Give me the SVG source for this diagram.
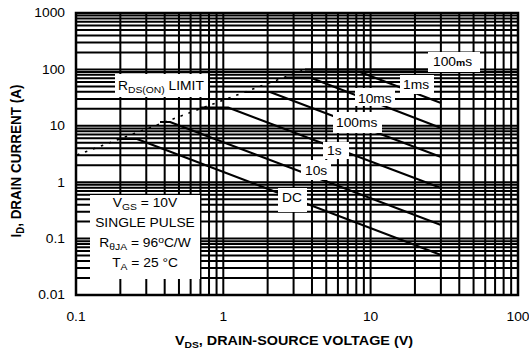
<svg xmlns="http://www.w3.org/2000/svg" width="529" height="354" viewBox="0 0 529 354">
<style>
.g{stroke:#000;stroke-width:2;fill:none}
.fr{stroke:#000;stroke-width:2.5;fill:none}
.c{stroke:#000;stroke-width:2;fill:none;stroke-linejoin:round}
.rds{stroke:#000;stroke-width:1.6;fill:none;stroke-dasharray:2.5 6}
.bx{fill:#fff;stroke:none}
text{font-family:"Liberation Sans",Arial,sans-serif;font-size:12px;fill:#000}
.b{font-weight:bold;font-size:12.5px}
.s{font-size:9px}
</style>
<rect width="529" height="354" fill="#fff"/>
<g id="grid">
<path class="g" d="M76 15.58H518M76 18.47H518M76 21.74H518M76 25.51H518M76 29.98H518M76 35.46H518M76 42.49H518M76 52.42H518M76 69.4H518
M76 71.98H518M76 74.87H518M76 78.14H518M76 81.91H518M76 86.38H518M76 91.86H518M76 98.89H518M76 108.82H518M76 125.8H518
M76 128.38H518M76 131.27H518M76 134.54H518M76 138.31H518M76 142.78H518M76 148.26H518M76 155.29H518M76 165.22H518M76 182.2H518
M76 184.78H518M76 187.67H518M76 190.94H518M76 194.71H518M76 199.18H518M76 204.66H518M76 211.69H518M76 221.62H518M76 238.6H518
M76 241.18H518M76 244.07H518M76 247.34H518M76 251.11H518M76 255.58H518M76 261.06H518M76 268.09H518M76 278.02H518
M120.34 13V295M146.28 13V295M164.68 13V295M178.96 13V295M190.62 13V295M200.48 13V295M209.02 13V295M216.56 13V295M223.3 13V295
M267.64 13V295M293.58 13V295M311.98 13V295M326.26 13V295M337.92 13V295M347.78 13V295M356.32 13V295M363.86 13V295M370.6 13V295
M414.94 13V295M440.88 13V295M459.28 13V295M473.56 13V295M485.22 13V295M495.08 13V295M503.62 13V295M511.16 13V295"/>
<rect class="fr" x="76" y="13" width="442" height="282"/>
</g>
<g id="connectors">
<path class="rds" d="M77 155L305 69.5"/>
<polyline class="c" points="305,69.5 430,69.5"/>
<polyline class="c" points="298,72 360,72 441,103"/>
<polyline class="c" points="285,77.5 310,77.5 441,128"/>
<polyline class="c" points="245,92 270,92 441,157"/>
<polyline class="c" points="200,107.5 228,107.5 441,188"/>
<polyline class="c" points="160,122 170,122 441,225"/>
<polyline class="c" points="119,139 137,139 441,255"/>
</g>
<g id="label-rds">
<rect class="bx" x="115" y="74" width="93" height="23"/>
<text transform="matrix(1.15 0 0 1 118 90)">R<tspan class="s" dy="3">DS(ON)</tspan><tspan dy="-3"> LIMIT</tspan></text>
</g>
<g id="label-100us">
<rect class="bx" x="428" y="52" width="52" height="20"/>
<text transform="matrix(1.15 0 0 1 433 66)">100<tspan style="font-size:9px;font-weight:bold">m</tspan>s</text>
</g>
<g id="label-1ms">
<rect class="bx" x="400" y="75" width="34" height="19"/>
<text transform="matrix(1.15 0 0 1 403 89)">1ms</text>
</g>
<g id="label-10ms">
<rect class="bx" x="355" y="88" width="40" height="18"/>
<text transform="matrix(1.15 0 0 1 358 103)">10ms</text>
</g>
<g id="label-100ms">
<rect class="bx" x="333" y="112" width="49" height="21"/>
<text transform="matrix(1.15 0 0 1 336 127)">100ms</text>
</g>
<g id="label-1s">
<rect class="bx" x="323" y="142" width="26" height="17"/>
<text transform="matrix(1.15 0 0 1 327 155)">1s</text>
</g>
<g id="label-10s">
<rect class="bx" x="301" y="160" width="30" height="20"/>
<text transform="matrix(1.15 0 0 1 305 175)">10s</text>
</g>
<g id="label-dc">
<rect class="bx" x="278" y="188" width="29" height="24"/>
<text transform="matrix(1.15 0 0 1 282 202)">DC</text>
</g>
<g id="legend">
<rect class="bx" x="90" y="195" width="110" height="84"/>
<text text-anchor="middle" transform="matrix(1.15 0 0 1 145 207)">V<tspan class="s" dy="3">GS</tspan><tspan dy="-3"> = 10V</tspan></text>
<text text-anchor="middle" transform="matrix(1.15 0 0 1 145 227)">SINGLE PULSE</text>
<text text-anchor="middle" transform="matrix(1.15 0 0 1 145 247)">R<tspan class="s" dy="3">θJA</tspan><tspan dy="-3"> = 96</tspan><tspan class="s" dy="-4">o</tspan><tspan dy="4">C/W</tspan></text>
<text text-anchor="middle" transform="matrix(1.15 0 0 1 145 267)">T<tspan class="s" dy="3">A</tspan><tspan dy="-3"> = 25 °C</tspan></text>
</g>
<g id="y-axis">
<text text-anchor="end" transform="matrix(1.15 0 0 1 65 17.3)">1000</text>
<text text-anchor="end" transform="matrix(1.15 0 0 1 65 73.7)">100</text>
<text text-anchor="end" transform="matrix(1.15 0 0 1 65 130.1)">10</text>
<text text-anchor="end" transform="matrix(1.15 0 0 1 65 186.5)">1</text>
<text text-anchor="end" transform="matrix(1.15 0 0 1 65 242.9)">0.1</text>
<text text-anchor="end" transform="matrix(1.15 0 0 1 65 299.3)">0.01</text>
<text class="b" text-anchor="middle" transform="translate(21 161) scale(1.15 1) rotate(-90)" style="font-size:13.5px">I<tspan style="font-size:9.5px" dy="3">D</tspan><tspan dy="-3">, DRAIN CURRENT (A)</tspan></text>
</g>
<g id="x-axis">
<text text-anchor="middle" transform="matrix(1.15 0 0 1 76 321)">0.1</text>
<text text-anchor="middle" transform="matrix(1.15 0 0 1 223.3 321)">1</text>
<text text-anchor="middle" transform="matrix(1.15 0 0 1 370.6 321)">10</text>
<text text-anchor="middle" transform="matrix(1.15 0 0 1 518 321)">100</text>
<text class="b" text-anchor="middle" transform="matrix(1.15 0 0 1 294 345)">V<tspan style="font-size:9px" dy="3">DS</tspan><tspan dy="-3">, DRAIN-SOURCE VOLTAGE (V)</tspan></text>
</g>
</svg>
